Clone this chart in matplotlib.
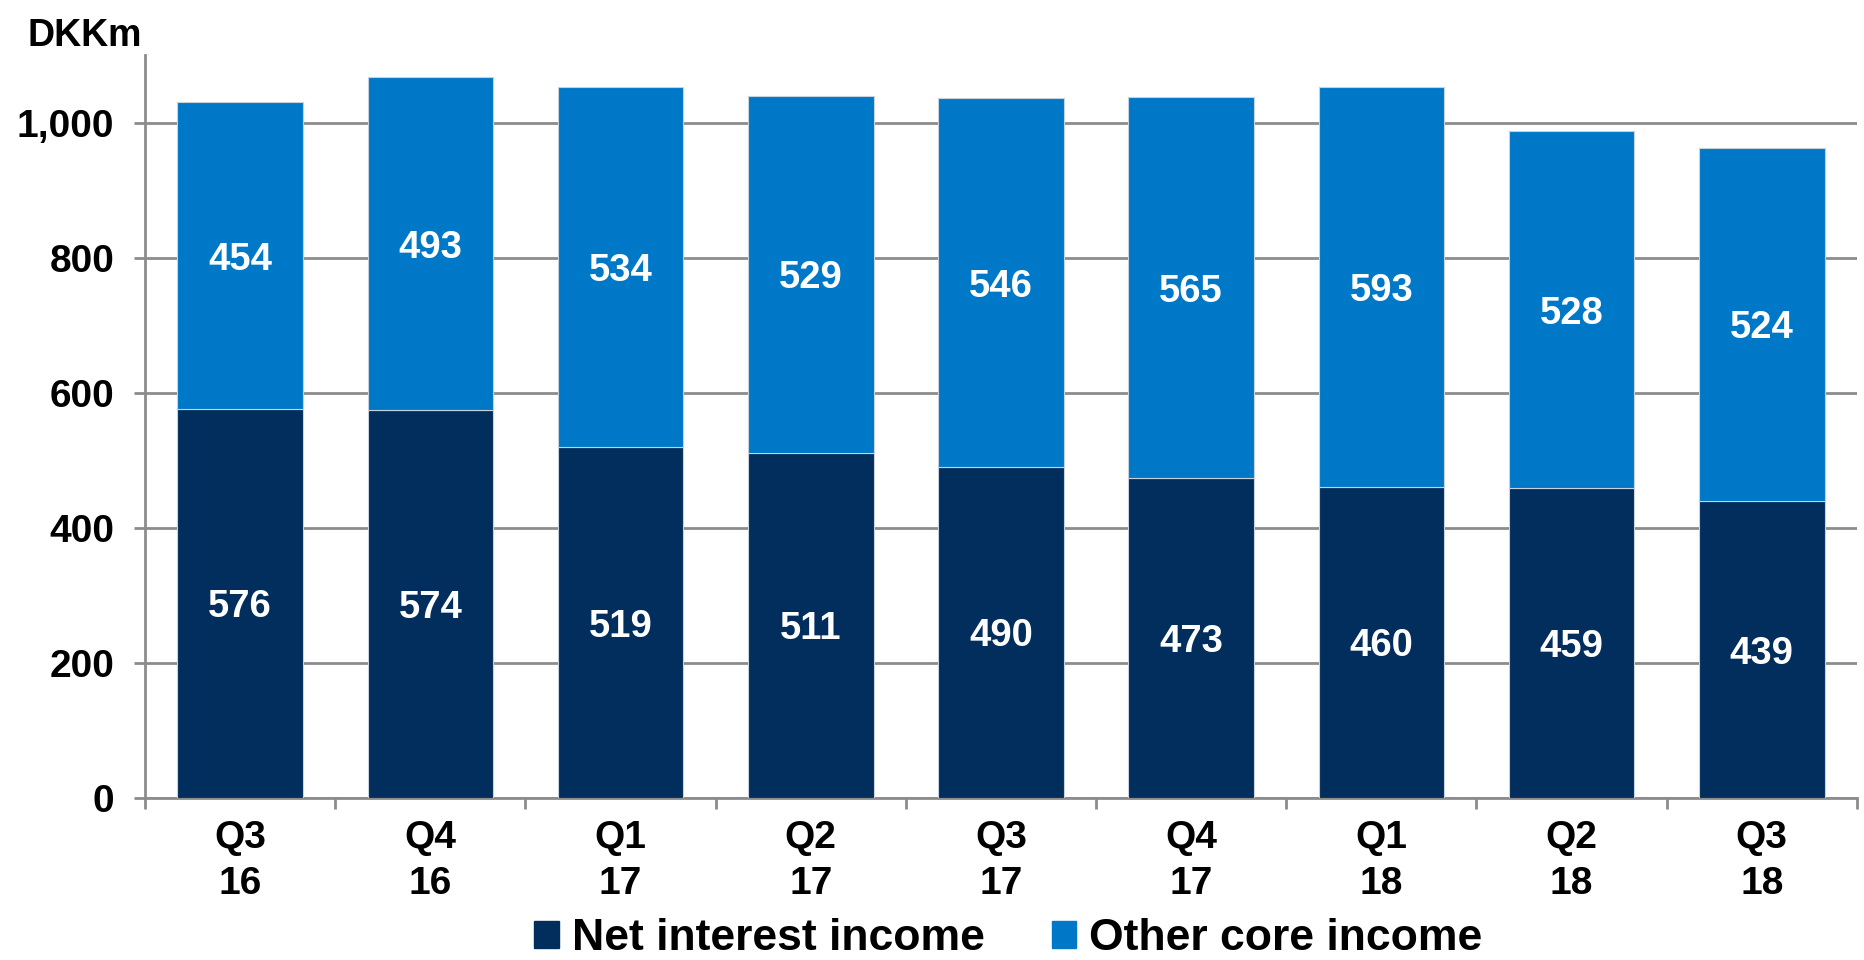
import numpy as np
import matplotlib
matplotlib.use("Agg")
import matplotlib.pyplot as plt
from matplotlib.patches import Patch

quarters = ["Q3\n16", "Q4\n16", "Q1\n17", "Q2\n17", "Q3\n17",
            "Q4\n17", "Q1\n18", "Q2\n18", "Q3\n18"]
net_interest = [576, 574, 519, 511, 490, 473, 460, 459, 439]
other_core = [454, 493, 534, 529, 546, 565, 593, 528, 524]

NAVY = "#022E5D"
BLUE = "#0078C8"
GREY = "#8C8C8C"

plt.rcParams['font.family'] = ['Liberation Sans', 'DejaVu Sans']
plt.rcParams['font.weight'] = 'bold'


def main():
    fig = plt.figure(figsize=(18.64, 9.6), dpi=100)
    ax = fig.add_axes([0.0778, 0.169, 0.9184, 0.7737])

    x = np.arange(len(quarters))
    b1 = ax.bar(x, net_interest, width=0.66, color=NAVY,
                edgecolor="#c8d2dc", linewidth=0.8, zorder=3)
    b2 = ax.bar(x, other_core, width=0.66, bottom=net_interest, color=BLUE,
                edgecolor="#c8d2dc", linewidth=0.8, zorder=3)
    texts = ax.bar_label(b1, labels=[str(v) for v in net_interest],
                         label_type='center', color='white', fontsize=27.5,
                         fontweight='bold')
    texts += ax.bar_label(b2, labels=[str(v) for v in other_core],
                          label_type='center', color='white', fontsize=27.5,
                          fontweight='bold')
    # centre the digits themselves rather than the full text box
    for t in texts:
        t.set_verticalalignment('center_baseline')

    ax.set_xlim(-0.5, len(quarters) - 0.5)
    ax.set_ylim(0, 1100)
    ax.set_yticks(np.arange(0, 1001, 200))
    ax.set_yticklabels([f"{v:,}" for v in range(0, 1001, 200)])
    ax.yaxis.grid(True, color=GREY, linewidth=2, zorder=0)

    # category labels at centres, tick marks between categories
    ax.set_xticks(x)
    ax.set_xticklabels(quarters, linespacing=1.35)
    ax.set_xticks(np.arange(-0.5, len(quarters)), minor=True)
    ax.tick_params(axis='x', which='major', length=0, pad=16, labelsize=28)
    ax.tick_params(axis='x', which='minor', length=8, width=2, color=GREY)
    ax.tick_params(axis='y', length=8, width=2, color=GREY, labelsize=28, pad=14)

    for s in ['top', 'right']:
        ax.spines[s].set_visible(False)
    for s in ['left', 'bottom']:
        ax.spines[s].set_color(GREY)
        ax.spines[s].set_linewidth(2)

    fig.text(0.0145, 0.962, "DKKm", fontsize=27, fontweight='bold', va='center')

    handles = [Patch(color=NAVY, label="Net interest income"),
               Patch(color=BLUE, label="Other core income")]
    fig.legend(handles=handles, loc='center', bbox_to_anchor=(0.541, 0.022),
               ncol=2, frameon=False, fontsize=32, handlelength=0.55,
               handleheight=0.55, handletextpad=0.3, columnspacing=1.5)

    fig.savefig("out.png", dpi=100)


if __name__ == "__main__":
    main()
